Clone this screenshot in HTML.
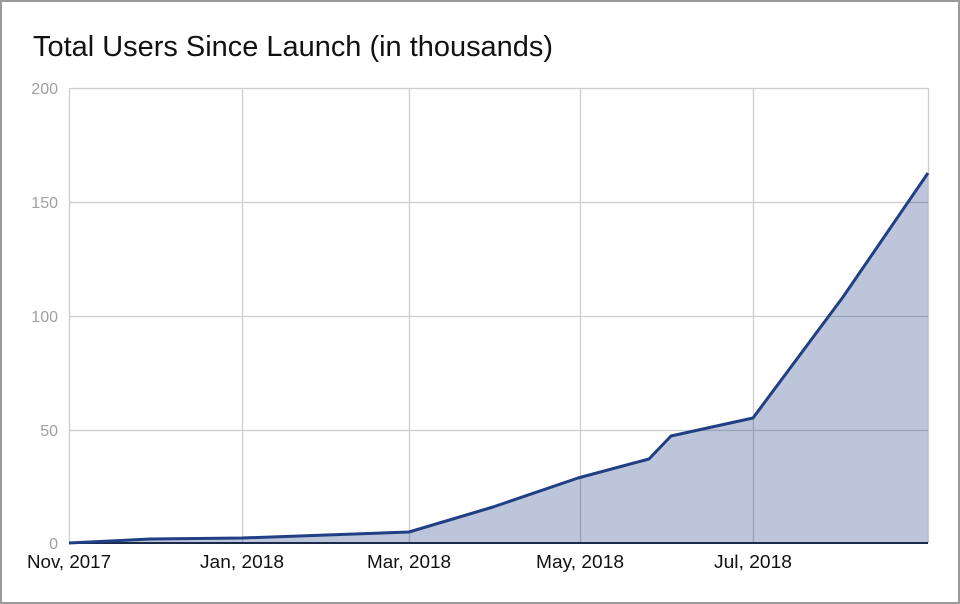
<!DOCTYPE html>
<html><head><meta charset="utf-8"><style>
html,body{margin:0;padding:0;background:#fff;}
.wrap{width:960px;height:604px;box-sizing:border-box;border:2px solid #9a9a9a;position:relative;overflow:hidden;background:#fff;}
svg{position:absolute;left:-2px;top:-2px;}
</style></head><body><div class="wrap">
<svg width="960" height="604" viewBox="0 0 960 604" xmlns="http://www.w3.org/2000/svg" font-family="'Liberation Sans', sans-serif">
<text x="33" y="56" font-size="29" fill="#111" textLength="520" lengthAdjust="spacingAndGlyphs">Total Users Since Launch (in thousands)</text>
<g stroke="#cccccc" stroke-width="1.3" fill="none">
<line x1="69" y1="88.5" x2="928" y2="88.5"/>
<line x1="69" y1="202.5" x2="928" y2="202.5"/>
<line x1="69" y1="316.5" x2="928" y2="316.5"/>
<line x1="69" y1="430.5" x2="928" y2="430.5"/>
<line x1="69.5" y1="88" x2="69.5" y2="543"/>
<line x1="242.5" y1="88" x2="242.5" y2="543"/>
<line x1="409.5" y1="88" x2="409.5" y2="543"/>
<line x1="580.5" y1="88" x2="580.5" y2="543"/>
<line x1="753.5" y1="88" x2="753.5" y2="543"/>
<line x1="928.5" y1="88" x2="928.5" y2="543"/>
</g>
<g font-size="16" fill="#a0a0a0" text-anchor="end">
<text x="58" y="94">200</text>
<text x="58" y="208">150</text>
<text x="58" y="322">100</text>
<text x="58" y="436">50</text>
<text x="58" y="549">0</text>
</g>
<polygon points="69,543 150,539 242,538 409,532 493,507 578,478 649,459 671,436 753,418 843,297 928,173 928,543" fill="#213f84" fill-opacity="0.3"/>
<line x1="69" y1="543" x2="928" y2="543" stroke="#1c2a4a" stroke-width="2"/>
<polyline points="69,543 150,539 242,538 409,532 493,507 578,478 649,459 671,436 753,418 843,297 928,173" fill="none" stroke="#213f84" stroke-width="3" stroke-linejoin="round"/>
<g font-size="18" fill="#111" text-anchor="middle">
<text x="69" y="568" textLength="84" lengthAdjust="spacingAndGlyphs">Nov, 2017</text>
<text x="242" y="568" textLength="84" lengthAdjust="spacingAndGlyphs">Jan, 2018</text>
<text x="409" y="568" textLength="84" lengthAdjust="spacingAndGlyphs">Mar, 2018</text>
<text x="580" y="568" textLength="88" lengthAdjust="spacingAndGlyphs">May, 2018</text>
<text x="753" y="568" textLength="78" lengthAdjust="spacingAndGlyphs">Jul, 2018</text>
</g>
</svg>
</div></body></html>
